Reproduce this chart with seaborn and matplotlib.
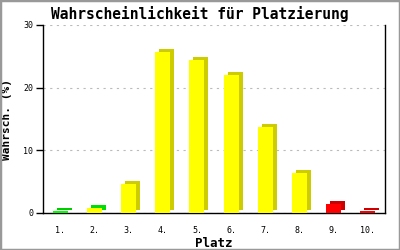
import matplotlib
matplotlib.use("Agg")
import matplotlib.pyplot as plt
import matplotlib.transforms as mtransforms
from matplotlib.patches import Rectangle
import seaborn as sns
import pandas as pd

plaetze = ["1.", "2.", "3.", "4.", "5.", "6.", "7.", "8.", "9.", "10."]
werte = [0.3, 0.8, 4.6, 25.7, 24.4, 22.0, 13.8, 6.4, 1.5, 0.3]
farben_front = ["#00ff00", "#ffff00", "#ffff00", "#ffff00", "#ffff00",
                "#ffff00", "#ffff00", "#ffff00", "#ff0000", "#ff0000"]
farben_seite = ["#00cc00", "#00dd00", "#cccc00", "#cccc00", "#cccc00",
                "#cccc00", "#cccc00", "#cccc00", "#cc0000", "#cc0000"]
y_ticks = [0, 10, 20, 30]

sns.set_style("white")
plt.rcParams["font.family"] = ["DejaVu Sans Mono", "DejaVu Sans"]
plt.rcParams["text.color"] = "black"
plt.rcParams["axes.labelcolor"] = "black"
plt.rcParams["xtick.color"] = "black"
plt.rcParams["ytick.color"] = "black"

df = pd.DataFrame({"Platz": plaetze, "Wert": werte})

fig = plt.figure(figsize=(4, 2.5), dpi=100)
ax = fig.add_axes([0.1075, 0.148, 0.855, 0.752])

# shadow (3D depth) bars, shifted right/up
before = set(ax.patches)
sns.barplot(data=df, x="Platz", y="Wert", hue="Platz", palette=farben_seite,
            legend=False, width=0.44, ax=ax, saturation=1, linewidth=0)
shadow = [p for p in ax.patches if p not in before]
offset = mtransforms.ScaledTranslation(4 / 100, 3 / 100, fig.dpi_scale_trans)
for p in shadow:
    p.set_transform(ax.transData + offset)
    p.set_zorder(2)

before = set(ax.patches)
sns.barplot(data=df, x="Platz", y="Wert", hue="Platz", palette=farben_front,
            legend=False, width=0.44, ax=ax, saturation=1, linewidth=0)
front = [p for p in ax.patches if p not in before]
for p in front:
    p.set_zorder(3)

n = len(plaetze)
ax.set_xlim(-0.5, n - 0.5)
ax.set_ylim(0, 30)
ax.set_yticks(y_ticks)
ax.set_yticklabels([str(t) for t in y_ticks])
ax.yaxis.grid(True, linestyle=(0, (2, 4)), color="#bbbbbb", linewidth=0.8)
ax.set_axisbelow(True)
ax.tick_params(axis="y", which="both", left=True, length=5, width=1,
               color="black", labelcolor="black", labelsize=6, pad=2)
ax.tick_params(axis="x", bottom=False, labelsize=6, labelcolor="black", pad=6)
for s in ["left", "bottom", "right"]:
    ax.spines[s].set_visible(True)
    ax.spines[s].set_color("black")
    ax.spines[s].set_linewidth(1)
ax.spines["top"].set_visible(False)

ax.set_xlabel("Platz", fontsize=9, fontweight="bold", labelpad=1, color="black")
ax.set_ylabel("Wahrsch. (%)", fontsize=8, fontweight="bold", labelpad=8, color="black")
fig.text(0.5, 0.945, "Wahrscheinlichkeit für Platzierung", ha="center",
         va="center", fontsize=10.5, fontweight="bold", color="black")

fig.patches.append(Rectangle((0, 0), 1, 1, transform=fig.transFigure,
                             fill=False, edgecolor="#999999", linewidth=2.5))

fig.savefig("out.png", dpi=100)
